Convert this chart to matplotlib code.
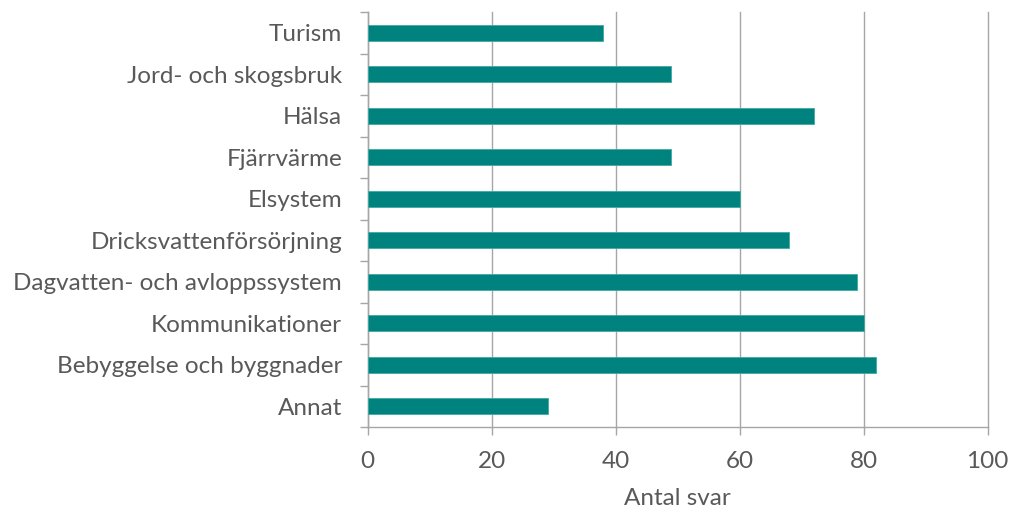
import matplotlib
matplotlib.use("Agg")
import matplotlib.pyplot as plt

# Data (top to bottom as in the chart)
categories = ["Turism", "Jord- och skogsbruk", "Hälsa", "Fjärrvärme", "Elsystem",
              "Dricksvattenförsörjning", "Dagvatten- och avloppssystem",
              "Kommunikationer", "Bebyggelse och byggnader", "Annat"]
values = [38, 49, 72, 49, 60, 68, 79, 80, 82, 29]
x_ticks = [0, 20, 40, 60, 80, 100]

bar_color = "#00827F"
text_color = "#595959"
grid_color = "#A6A6A6"

plt.rcParams['font.family'] = ['Lato', 'DejaVu Sans']

fig = plt.figure(figsize=(10.16, 5.13), dpi=100)
ax = fig.add_axes([0.362, 0.1676, 0.61, 0.809])

pos = list(range(len(categories)))[::-1]
ax.barh(pos, values, height=0.39, color=bar_color, edgecolor="#3FA9A5", linewidth=0.6, zorder=3)

ax.set_xlim(0, 100)
ax.set_ylim(-0.5, len(categories) - 0.5)
ax.set_xticks(x_ticks)
ax.set_xticklabels([str(t) for t in x_ticks], fontsize=17.5, color=text_color)
ax.set_yticks(pos)
ax.set_yticklabels(categories, fontsize=17.5, color=text_color)
ax.tick_params(axis='y', length=0, pad=18.5)
ax.set_yticks([p + 0.5 for p in range(-1, len(categories))], minor=True)
ax.tick_params(axis='y', which='minor', length=6, color=grid_color, width=1)
ax.tick_params(axis='x', length=6, color=grid_color, width=1, pad=11)

ax.grid(axis='x', color=grid_color, linewidth=1, zorder=0)
for gl in ax.get_xgridlines():
    gl.set_clip_on(False)
for s in ['top', 'right']:
    ax.spines[s].set_visible(False)
for s in ['left', 'bottom']:
    ax.spines[s].set_color(grid_color)
    ax.spines[s].set_linewidth(1)

ax.set_xlabel("Antal svar", fontsize=17.5, color=text_color, labelpad=12)

fig.savefig("out.png", dpi=100)
